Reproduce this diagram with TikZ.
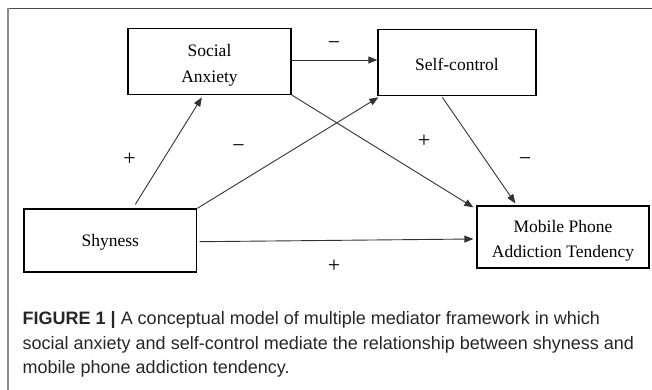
\documentclass[tikz,border=0pt]{standalone}
\usepackage{fontspec}
\setmainfont{Liberation Serif}
\newfontfamily\capfont{Liberation Sans}
\usetikzlibrary{arrows.meta}
\newcommand\topstrut[1]{\rule{0pt}{#1}}
\tikzset{
  box/.style={draw=black, line width=1.3pt, inner sep=0pt, align=center,
    font=\fontsize{17.5}{25.3}\selectfont},
  arr/.style={draw=black!80, line width=0.9pt, -{Triangle[length=9pt,width=7pt]}},
  sign/.style={font=\fontsize{22}{22}\selectfont, inner sep=0pt},
  captxt/.style={anchor=base west, inner sep=0pt, font=\capfont\fontsize{18}{24}\selectfont, text=black!85}
}
\begin{document}
\begin{tikzpicture}[x=1pt,y=-1pt]
\useasboundingbox (0,0) rectangle (652,390);
% frame
\draw[black!70, line width=1.5pt] (7.5,8.5) -- (652,8.5);
\draw[black!45, line width=2pt] (7.5,8.5) -- (7.5,390);
% boxes
\node[box, minimum width=163pt, minimum height=66pt] (SA) at (209.5,61.3) {\topstrut{20pt}Social\\Anxiety};
\node[box, minimum width=158pt, minimum height=66.4pt] (SC) at (457,62.5) {\topstrut{16pt}Self-control};
\node[box, minimum width=172.6pt, minimum height=63pt] (SH) at (110.3,240.5) {\topstrut{15pt}Shyness};
\node[box, minimum width=172pt, minimum height=62pt] (MP) at (563,237) {\topstrut{20pt}Mobile Phone\\Addiction Tendency};
% arrows
\draw[arr] ([yshift=1.3pt]SA.east) -- ([yshift=1.3pt]SA.east -| SC.west);
\draw[arr] ([xshift=112pt,yshift=4pt]SH.north west) -- ([xshift=74.5pt,yshift=-2.4pt]SA.south west);
\draw[arr] (SH.north east) -- ([xshift=1pt,yshift=-1pt]SC.south west);
\draw[arr] (SA.south east) -- ([xshift=-3pt,yshift=-2pt]MP.north west);
\draw[arr] ([xshift=65pt,yshift=-1pt]SC.south west) -- ([xshift=39pt,yshift=2pt]MP.north west);
\draw[arr] ([xshift=2.3pt,yshift=-1.2pt]SH.east) -- ([xshift=-3pt,yshift=-2pt]MP.west);
% signs
\node[sign] (s1) at (334,46) {−};
\node[sign] (s2) at (129.5,159.3) {+};
\node[sign] (s3) at (238.5,148.3) {−};
\node[sign] (s4) at (424,141.7) {+};
\node[sign] (s5) at (525,162) {−};
\node[sign] (s6) at (334,266.7) {+};
% caption
\node[captxt] (c1) at (22.5,324.5) {\textbf{FIGURE 1 |} A conceptual model of multiple mediator framework in which};
\node[captxt] (c2) at (22.5,349) {social anxiety and self-control mediate the relationship between shyness and};
\node[captxt] (c3) at (22.5,373.5) {mobile phone addiction tendency.};
\end{tikzpicture}
\end{document}
